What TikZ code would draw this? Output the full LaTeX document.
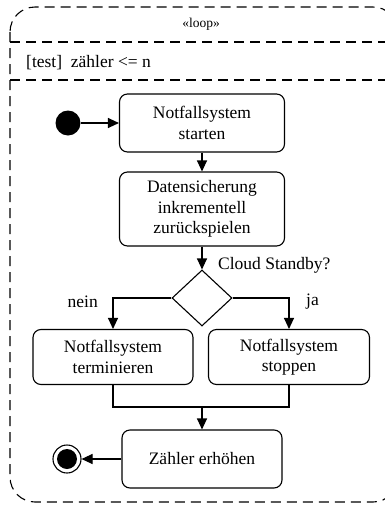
\documentclass[tikz,border=0pt]{standalone}
\usepackage{fontspec}
\setmainfont{Liberation Serif}
\usetikzlibrary{arrows.meta, shapes.geometric}

\tikzset{
  act/.style={draw, line width=1.1pt, rounded corners=8pt, align=center,
    font=\fontsize{17.5}{20.5}\selectfont, inner sep=2pt},
  decision/.style={draw, line width=1.1pt, shape=diamond, inner sep=0pt,
    minimum width=60pt, minimum height=56pt},
  flow/.style={line width=1.1pt, -{Triangle[length=11pt, width=10pt]}},
  lbl/.style={font=\fontsize{17.5}{20.5}\selectfont, inner sep=0pt},
  frame/.style={line width=1.1pt, dash pattern=on 10pt off 6pt}
}

\begin{document}
\begin{tikzpicture}[x=1pt, y=-1pt]
  \useasboundingbox (0,0) rectangle (385,507);
  % loop frame with its two header rows
  \draw[frame, rounded corners=25pt] (10,7) rectangle (398,502);
  \draw[frame] (10,42) -- (398,42);
  \draw[frame] (10,80) -- (398,80);
  \node[font=\fontsize{13.5}{16}\selectfont] (loop) at (201,24) {«loop»};
  \node[lbl, anchor=west] (test) at (26,63) {[test]\ \ zähler <= n};

  % start and activities
  \node[circle, fill, minimum size=25pt, inner sep=0pt] (start) at (68,123) {};
  \node[act, minimum width=165pt, minimum height=58pt] (starten) at (202,123) {Notfallsystem\\starten};
  \node[act, minimum width=165pt, minimum height=74pt] (sicherung) at (202,209) {Datensicherung\\inkrementell\\zurückspielen};
  \node[decision] (cloud) at (202,298) {};
  \node[lbl, anchor=west] (frage) at (218,265) {Cloud Standby?};
  \node[act, minimum width=160pt, minimum height=55pt] (terminieren) at (113,357) {Notfallsystem\\terminieren};
  \node[act, minimum width=161pt, minimum height=55pt] (stoppen) at (289,357) {Notfallsystem\\stoppen};
  \node[lbl, anchor=east] (nein) at (98,302) {nein};
  \node[lbl, anchor=west] (ja) at (306,302) {ja};
  \coordinate (join) at (202,407);
  \node[act, minimum width=160pt, minimum height=58pt] (erhoehen) at (202,459) {Zähler erhöhen};
  % final node
  \node[circle, draw, line width=1.1pt, minimum size=28pt, inner sep=0pt] (ende) at (67,459) {};
  \fill (ende.center) circle (10pt);

  % connectors
  \draw[flow] (start) -- (starten);
  \draw[flow] (starten) -- (sicherung);
  \draw[flow] (sicherung) -- (cloud);
  \draw[flow] (cloud.west) -| (terminieren.north);
  \draw[flow] (cloud.east) -| (stoppen.north);
  \draw[line width=1.1pt] (terminieren.south) |- (join) -| (stoppen.south);
  \draw[flow] (join) -- (erhoehen);
  \draw[flow] (erhoehen) -- (ende);
\end{tikzpicture}
\end{document}
